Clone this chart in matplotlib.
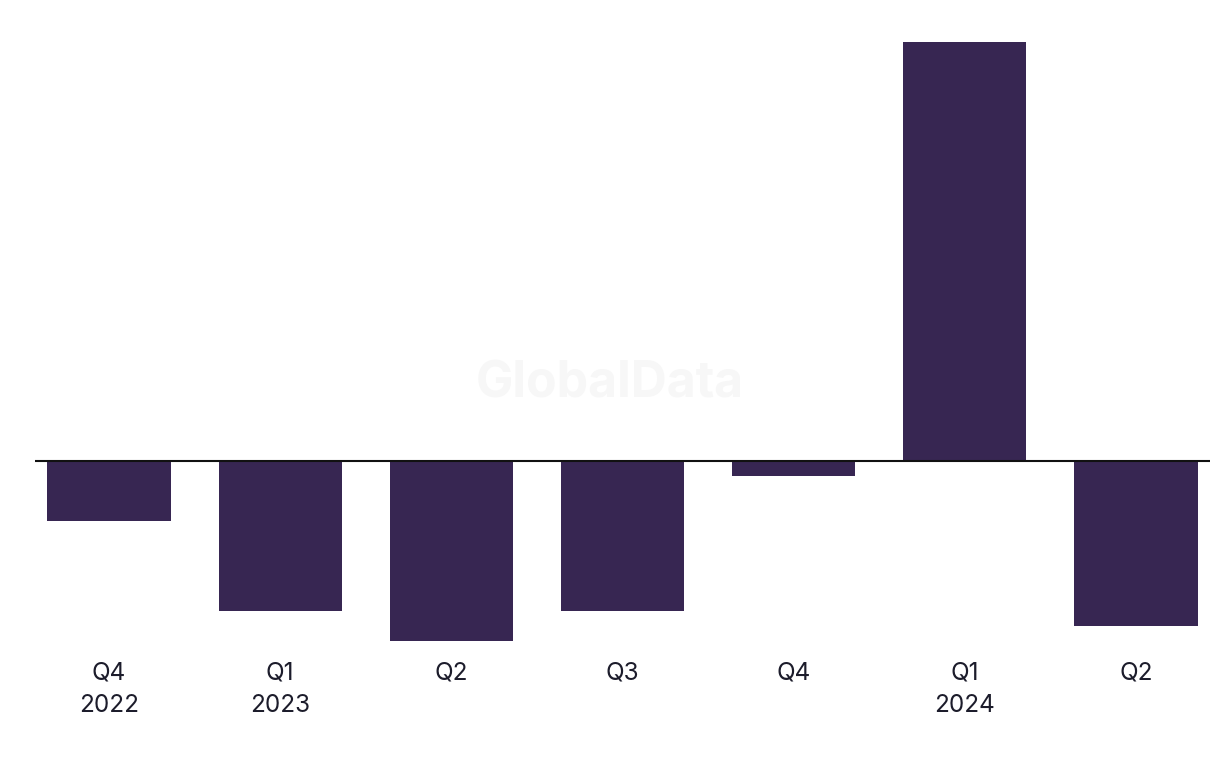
import numpy as np
import matplotlib.pyplot as plt

# quarterly change values
quarters = ["Q4\n2022", "Q1\n2023", "Q2", "Q3", "Q4", "Q1\n2024", "Q2"]
values = [-2.0, -5.0, -6.0, -5.0, -0.5, 14.0, -5.5]

bar_color = "#372652"
text_color = "#1c1c2b"

plt.rcParams["font.family"] = ["Inter", "DejaVu Sans"]

fig = plt.figure(figsize=(12.2, 7.68), dpi=100)
ax = fig.add_axes([35 / 1220, 1 - 641 / 768, 1175 / 1220, 599 / 768])

x = np.arange(len(quarters))
ax.bar(x, values, width=0.72, color=bar_color, zorder=2)
ax.axhline(0, color="#111111", linewidth=1.5, zorder=3)

ax.set_xlim(-0.432, len(quarters) - 1 + 0.432)
ax.set_ylim(-6, 14)

ax.set_xticks(x)
ax.set_xticklabels(quarters, fontsize=17.5, color=text_color, linespacing=1.5)
ax.tick_params(axis="x", length=0, pad=15)
ax.set_yticks([])
for side in ax.spines.values():
    side.set_visible(False)

# faint watermark
fig.text(0.5, 1 - 384 / 768, "GlobalData", ha="center", va="center",
         fontsize=36, fontweight="bold", color="#f7f7f7", zorder=0)

fig.savefig("out.png", dpi=100)
